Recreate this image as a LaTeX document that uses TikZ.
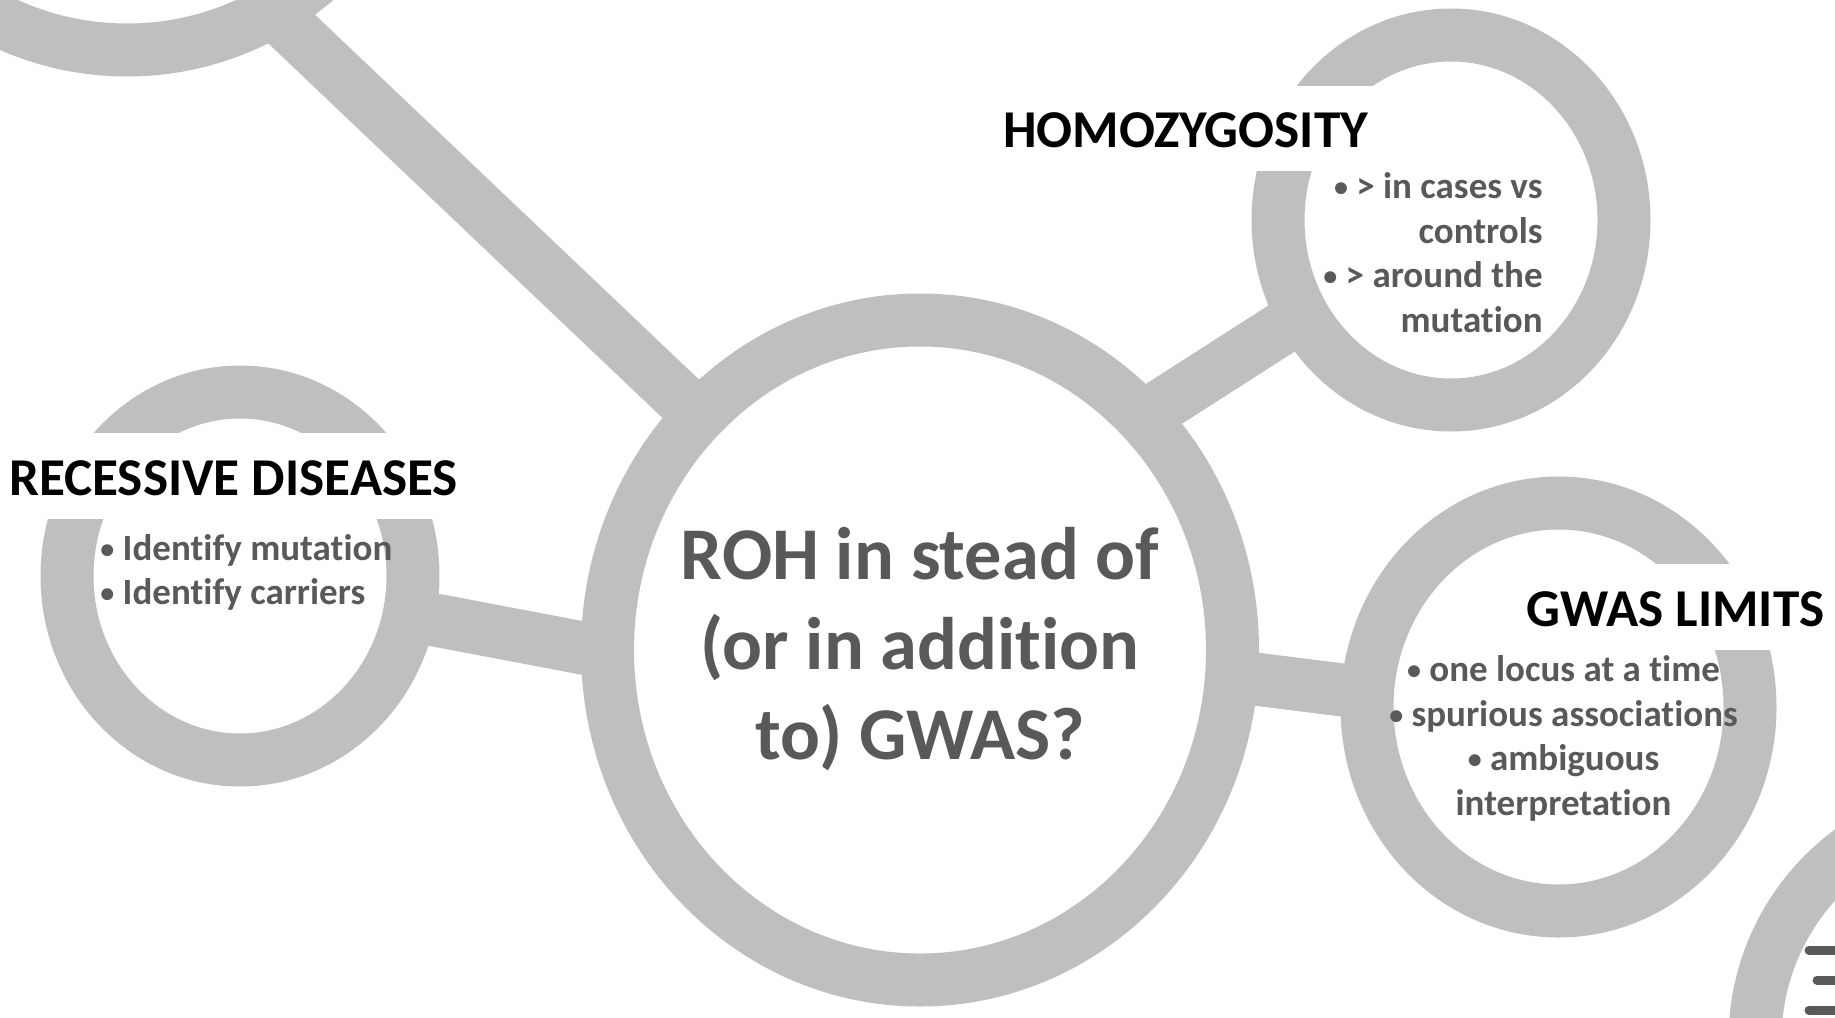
\documentclass[tikz,border=0pt]{standalone}
\usepackage{fontspec}
\setmainfont{Carlito}[Ligatures=NoCommon]
\usetikzlibrary{shapes.geometric}
\definecolor{ringgray}{HTML}{BFBFBF}
\definecolor{txtgray}{HTML}{595959}
\newcommand{\mybul}{{\fontsize{14}{14}\selectfont\raisebox{0.9pt}{•}}}
\tikzset{
  ring/.style={ellipse, draw=ringgray, line width=26.5pt, fill=white, inner sep=0pt, outer sep=0pt},
  bar/.style={draw=ringgray, line width=26.5pt},
  labelbox/.style={fill=white, inner sep=0pt, outer sep=0pt, anchor=north west},
  heading/.style={font=\bfseries\fontsize{26.6}{32}\selectfont, text=black, inner sep=0pt},
  bullettxt/.style={font=\bfseries\fontsize{18.5}{22}\selectfont, text=txtgray, inner sep=0pt},
  centraltxt/.style={font=\bfseries\fontsize{37.2}{45}\selectfont, text=txtgray, inner sep=0pt},
  dashline/.style={draw=txtgray, line width=4.5pt, line cap=round}
}
\begin{document}
\begin{tikzpicture}[x=0.5pt,y=-0.5pt]
\useasboundingbox (0,0) rectangle (1835,1017);
\clip (0,0) rectangle (1835,1017);

% connector end points
\coordinate (tlA) at (200,-58);
\coordinate (tlB) at (920,626);
\coordinate (recA) at (240,583);
\coordinate (recB) at (920,712);
\coordinate (homA) at (1451,220);
\coordinate (homB) at (920,560);
\coordinate (gwA) at (1558,717);
\coordinate (gwB) at (920,637);

% connectors
\draw[bar] (tlA) -- (tlB);
\draw[bar] (recA) -- (recB);
\draw[bar] (homA) -- (homB);
\draw[bar] (gwA) -- (gwB);

% rings
\node[ring, minimum width=290pt, minimum height=290pt] (tl) at (127,-240) {};
\node[ring, minimum width=235pt, minimum height=235pt] (br) at (1990,1040) {};
\node[ring, minimum width=312.5pt, minimum height=330pt] (cen) at (920,650) {};
\node[ring, minimum width=173pt, minimum height=185pt] (hom) at (1451,220) {};
\node[ring, minimum width=173pt, minimum height=184pt] (rec) at (240,576) {};
\node[ring, minimum width=191.5pt, minimum height=204pt] (gw) at (1558.5,707) {};

% label boxes
\node[labelbox, minimum width=202pt, minimum height=42.5pt] (homBox) at (995,86) {};
\node[labelbox, minimum width=235pt, minimum height=43pt] (recBox) at (0,433) {};
\node[labelbox, minimum width=160pt, minimum height=43pt] (gwBox) at (1520,564) {};

% headings
\node[heading, anchor=base] (homHead) at (1185.5,147.5) {HOMOZYGOSITY};
\node[heading, anchor=base] (recHead) at (233.5,495) {RECESSIVE DISEASES};
\node[heading, anchor=base] (gwHead) at (1675.5,626) {GWAS LIMITS};

% central text
\node[centraltxt, anchor=base] (q1) at (920,579.5) {ROH in stead of};
\node[centraltxt, anchor=base] (q2) at (920,669.5) {(or in addition};
\node[centraltxt, anchor=base] (q3) at (920,759) {to) GWAS?};

% homozygosity bullets
\node[bullettxt, anchor=base east] (h1) at (1543,198) {\mybul\ > in cases vs};
\node[bullettxt, anchor=base east] (h2) at (1543,243) {controls};
\node[bullettxt, anchor=base east] (h3) at (1543,287) {\mybul\ > around the};
\node[bullettxt, anchor=base east] (h4) at (1543,332) {mutation};

% recessive bullets
\node[bullettxt, anchor=base west] (r1) at (100,560) {\mybul\ Identify mutation};
\node[bullettxt, anchor=base west] (r2) at (100,604) {\mybul\ Identify carriers};

% gwas bullets
\node[bullettxt, anchor=base] (g1) at (1563.5,681) {\mybul\ one locus at a time};
\node[bullettxt, anchor=base] (g2) at (1563.5,726) {\mybul\ spurious associations};
\node[bullettxt, anchor=base] (g3) at (1563.5,770) {\mybul\ ambiguous};
\node[bullettxt, anchor=base] (g4) at (1563.5,815) {interpretation};

% partial text strokes, bottom right
\draw[dashline] (1809,950) -- (1850,950);
\draw[dashline] (1817,980) -- (1850,980);
\draw[dashline] (1809,1010) -- (1850,1010);
\end{tikzpicture}
\end{document}
